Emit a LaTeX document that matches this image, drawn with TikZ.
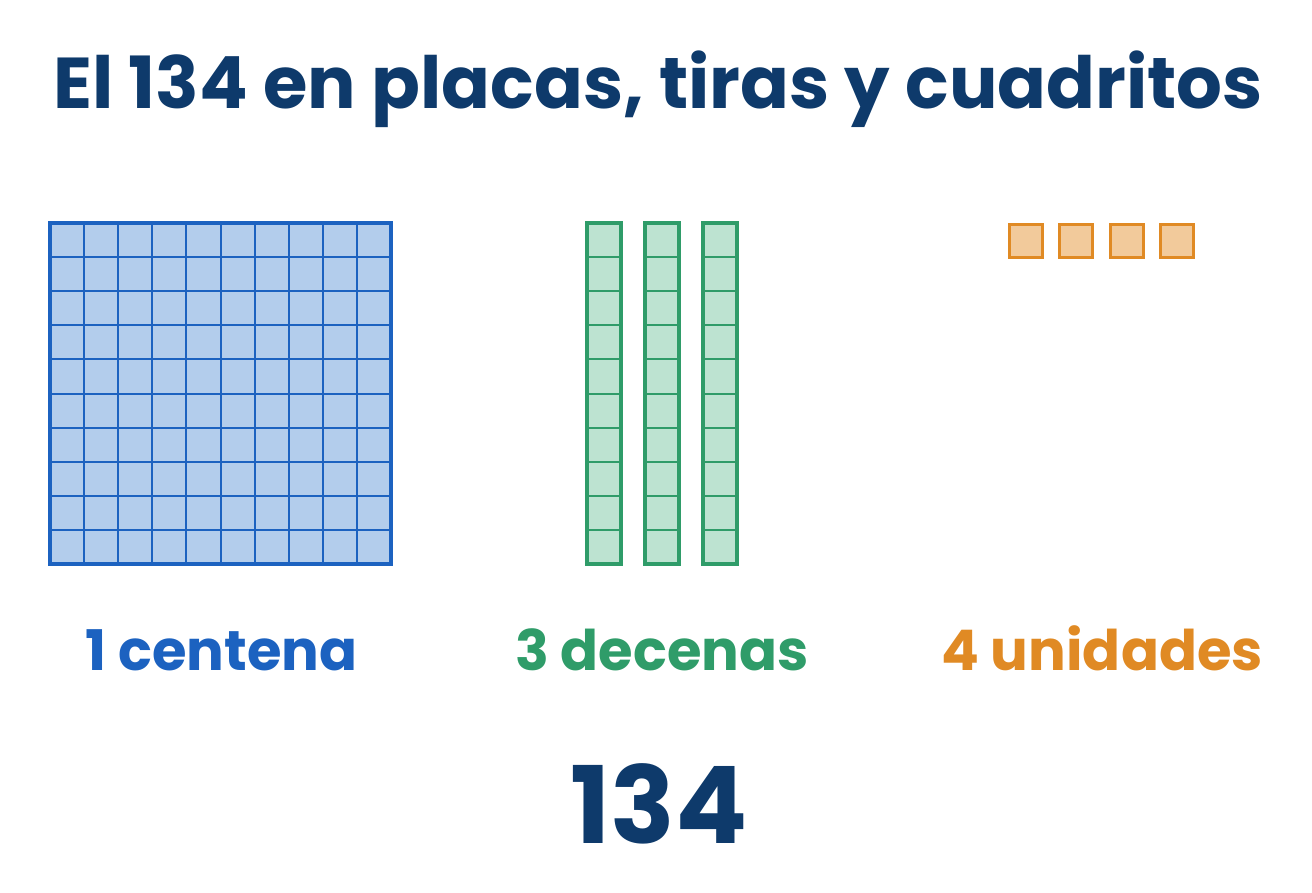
\documentclass[tikz,border=0pt]{standalone}
\usepackage{fontspec}
\setmainfont{Poppins}[BoldFont={Poppins Bold}]
\definecolor{navy}{HTML}{0E3A6B}
\definecolor{bstroke}{HTML}{1C62C0}
\definecolor{bfill}{HTML}{B3CDEC}
\definecolor{gstroke}{HTML}{2F9C69}
\definecolor{gfill}{HTML}{BDE3D1}
\definecolor{ostroke}{HTML}{E08A24}
\definecolor{ofill}{HTML}{F2CA9B}
\tikzset{
  title/.style={font=\bfseries\fontsize{72}{84}\selectfont, text=navy, anchor=base, inner sep=0pt},
  lbl/.style={font=\bfseries\fontsize{56}{66}\selectfont, anchor=base, inner sep=0pt},
  big/.style={font=\bfseries\fontsize{107}{120}\selectfont, text=navy, anchor=base, inner sep=0pt},
  unitbox/.style={draw=ostroke, fill=ofill, line width=3pt, minimum size=33pt, inner sep=0pt, outer sep=0pt},
}
\begin{document}
\begin{tikzpicture}[x=1pt,y=-1pt]
\useasboundingbox (0,0) rectangle (1312,892);
\node[title] (t) at (658,108) {El 134 en placas, tiras y cuadritos};
% centena
\fill[bfill] (50,223) rectangle (391,564);
\foreach \i in {1,...,9}{
  \draw[bstroke, line width=2pt] ({50+\i*34.1},223) -- ({50+\i*34.1},564);
  \draw[bstroke, line width=2pt] (50,{223+\i*34.1}) -- (391,{223+\i*34.1});
}
\node[draw=bstroke, line width=3.5pt, minimum width=341pt, minimum height=341pt, inner sep=0pt] (plate) at (220.5,393.5) {};
% decenas
\foreach \c/\n in {604/d1,662/d2,720/d3}{
  \fill[gfill] ({\c-17},223) rectangle ({\c+17},564);
  \foreach \j in {1,...,9}{
    \draw[gstroke, line width=2pt] ({\c-17},{223+\j*34.1}) -- ({\c+17},{223+\j*34.1});
  }
  \node[draw=gstroke, line width=3.5pt, minimum width=34pt, minimum height=341pt, inner sep=0pt] (\n) at (\c,393.5) {};
}
% unidades
\node[unitbox] (u1) at (1025.5,241) {};
\node[unitbox] (u2) at (1076,241) {};
\node[unitbox] (u3) at (1126.5,241) {};
\node[unitbox] (u4) at (1176.5,241) {};
% labels
\node[lbl, text=bstroke] (lc) at (221.5,670) {1 centena};
\node[lbl, text=gstroke] (ld) at (662,670) {3 decenas};
\node[lbl, text=ostroke] (lu) at (1102,670) {4 unidades};
\node[big] (n) at (659,843) {134};
\end{tikzpicture}
\end{document}
